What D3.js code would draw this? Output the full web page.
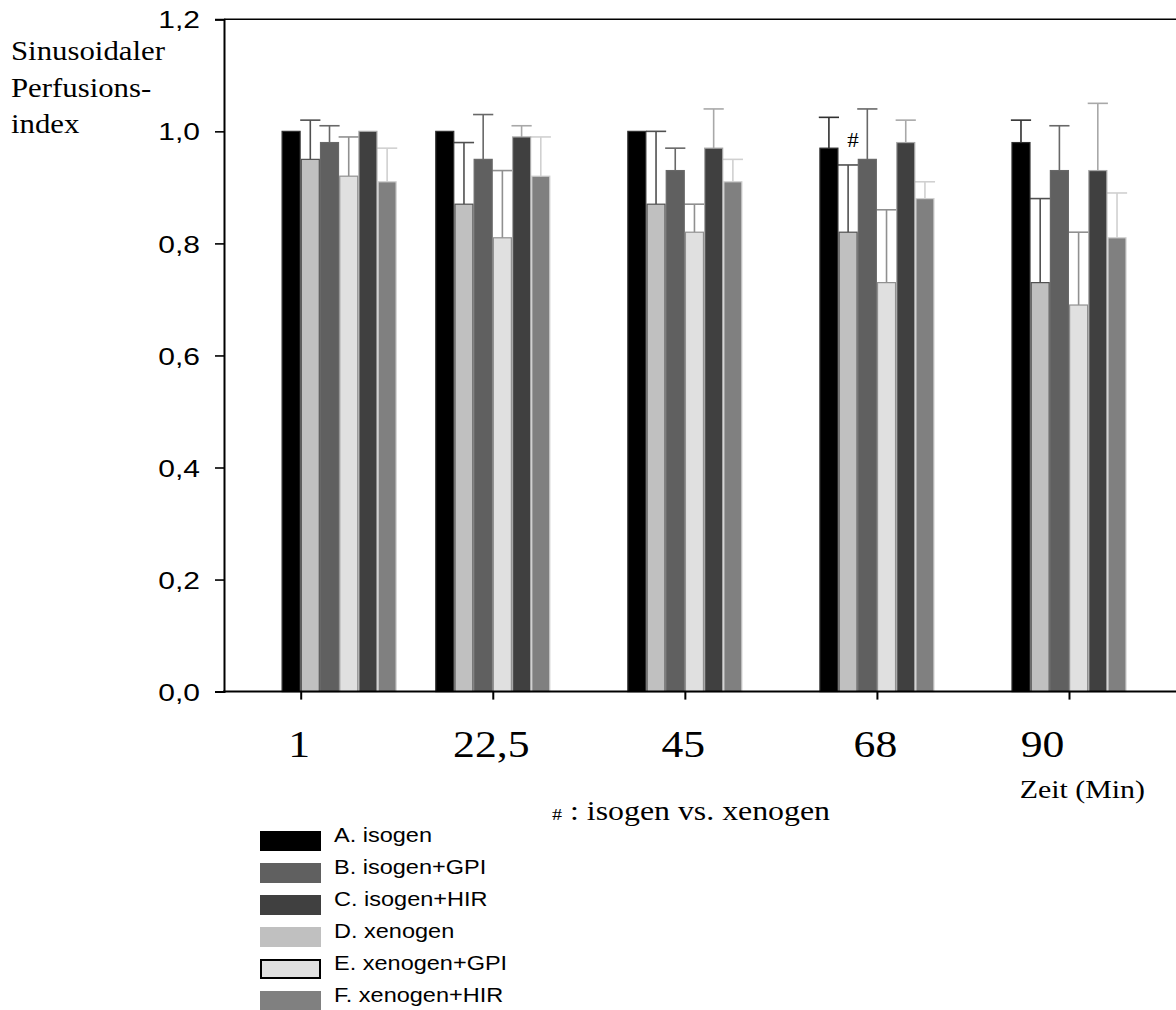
<!DOCTYPE html>
<html>
<head>
<meta charset="utf-8">
<script src="https://cdn.jsdelivr.net/npm/d3@7"></script>
<style>
  html, body { margin: 0; padding: 0; background: #fff; }
  svg { display: block; }
</style>
</head>
<body>
<svg id="chart" width="1176" height="1010"></svg>
<script>
// Time points (minutes) and their axis labels
const tickTimes  = [0, 22.5, 45, 67.5, 90];
const tickLabels = ["1", "22,5", "45", "68", "90"];
// Where each measurement group sits on the time axis
const groupTimes = [4.5, 22.5, 45, 67.5, 90];

// Series (legend order)
const seriesKeys   = ["A", "B", "C", "D", "E", "F"];
const seriesNames  = ["A. isogen", "B. isogen+GPI", "C. isogen+HIR", "D. xenogen", "E. xenogen+GPI", "F. xenogen+HIR"];
// Order of bars inside each group
const barOrder = ["A", "D", "B", "E", "C", "F"];

// Sinusoidal perfusion index: means and upper SD per time point
const valuesA = [1.00, 1.00, 1.00, 0.97, 0.98];
const errA    = [0.00, 0.00, 0.00, 0.055, 0.04];
const valuesB = [0.98, 0.95, 0.93, 0.95, 0.93];
const errB    = [0.03, 0.08, 0.04, 0.09, 0.08];
const valuesC = [1.00, 0.99, 0.97, 0.98, 0.93];
const errC    = [0.00, 0.02, 0.07, 0.04, 0.12];
const valuesD = [0.95, 0.87, 0.87, 0.82, 0.73];
const errD    = [0.07, 0.11, 0.13, 0.12, 0.15];
const valuesE = [0.92, 0.81, 0.82, 0.73, 0.69];
const errE    = [0.07, 0.12, 0.05, 0.13, 0.13];
const valuesF = [0.91, 0.92, 0.91, 0.88, 0.81];
const errF    = [0.06, 0.07, 0.04, 0.03, 0.08];

const yTicks = [0, 0.2, 0.4, 0.6, 0.8, 1.0, 1.2];

const seriesValues = { A: valuesA, B: valuesB, C: valuesC, D: valuesD, E: valuesE, F: valuesF };
const seriesErr    = { A: errA, B: errB, C: errC, D: errD, E: errE, F: errF };

const fillColor = { A: "#000000", B: "#606060", C: "#404040", D: "#c0c0c0", E: "#e0e0e0", F: "#808080" };
// Outline / whisker tone for each bar slot inside a group
const edgeColor = { A: "#303030", D: "#505050", B: "#686868", E: "#909090", C: "#a8a8a8", F: "#d0d0d0" };

const serif = "'Liberation Serif', 'Times New Roman', serif";
const sans  = "'Liberation Sans', Arial, sans-serif";
const stretch = 1.15; // typeface is set slightly wide

const svg = d3.select("#chart");

const x = d3.scaleLinear().domain([0, 90]).range([300.7, 1069]);
const y = d3.scaleLinear().domain([0, 1.2]).range([691.6, 19.3]);
const axisLeftX = 224;
const rightEdge = 1176;
const barW = (x(22.5) - x(0)) / 10;

// ---- bars ----
const bars = [];
groupTimes.forEach((t, gi) => {
  barOrder.forEach((k, bi) => {
    bars.push({ key: k, gi, t, bi, v: seriesValues[k][gi], e: seriesErr[k][gi] });
  });
});
const barX = d => x(d.t) + (d.bi - 3) * barW;

const gBars = svg.append("g");
// whiskers first (upper half only), then bars on top
gBars.selectAll("line.whisk").data(bars.filter(d => d.e > 0)).join("line")
  .attr("class", "whisk")
  .attr("x1", d => barX(d) + barW / 2).attr("x2", d => barX(d) + barW / 2)
  .attr("y1", d => y(d.v)).attr("y2", d => y(d.v + d.e))
  .attr("stroke", d => edgeColor[d.key]).attr("stroke-width", 1.6);
gBars.selectAll("line.cap").data(bars.filter(d => d.e > 0)).join("line")
  .attr("class", "cap")
  .attr("x1", d => barX(d) - 0.5).attr("x2", d => barX(d) + barW + 0.5)
  .attr("y1", d => y(d.v + d.e)).attr("y2", d => y(d.v + d.e))
  .attr("stroke", d => edgeColor[d.key]).attr("stroke-width", 1.6);
gBars.selectAll("rect").data(bars).join("rect")
  .attr("x", d => barX(d) + 0.6)
  .attr("width", barW - 1.2)
  .attr("y", d => y(d.v))
  .attr("height", d => y(0) - y(d.v))
  .attr("fill", d => fillColor[d.key])
  .attr("stroke", d => edgeColor[d.key]).attr("stroke-width", 1.2);

// significance marker over xenogen at 68 min
const markIdx = 3;
svg.append("text")
  .attr("transform", `translate(${x(groupTimes[markIdx]) - 2 * barW + barW / 2 + 5},${y(valuesD[markIdx] + errD[markIdx]) - 18}) scale(${stretch},1)`)
  .attr("text-anchor", "middle")
  .attr("font-family", serif).attr("font-size", 20)
  .text("#");

// ---- axes ----
const gy = svg.append("g").attr("transform", `translate(${axisLeftX},0)`)
  .call(d3.axisLeft(y).tickValues(yTicks).tickSize(9).tickPadding(15)
    .tickFormat(d => d3.format(".1f")(d).replace(".", ",")));
gy.select(".domain").attr("stroke-width", 2);
gy.selectAll(".tick line").attr("stroke-width", 1.6);
gy.selectAll(".tick text")
  .attr("font-family", sans).attr("font-size", 24).attr("fill", "#000")
  .attr("dy", "0.36em")
  .each(function () {
    const t = d3.select(this);
    const xx = +t.attr("x");
    t.attr("x", null).attr("transform", `translate(${xx},0) scale(1.25,1)`);
  });

// frame lines along top and bottom
svg.append("line").attr("x1", axisLeftX).attr("x2", rightEdge)
  .attr("y1", y(1.2)).attr("y2", y(1.2)).attr("stroke", "#000").attr("stroke-width", 1.6);

const gx = svg.append("g").attr("transform", `translate(0,${y(0)})`)
  .call(d3.axisBottom(x).tickValues(tickTimes).tickSize(8).tickPadding(30)
    .tickFormat((d, i) => tickLabels[i]));
gx.select(".domain").remove();
gx.selectAll(".tick line").attr("stroke-width", 2);
// last label is nudged left so it sits above the axis title
gx.selectAll(".tick text")
  .attr("font-family", serif).attr("font-size", 38).attr("fill", "#000")
  .attr("transform", (d, i) => `translate(${i === tickTimes.length - 1 ? -27 : -2},0) scale(1.15,1)`);
svg.append("line").attr("x1", axisLeftX - 1).attr("x2", rightEdge)
  .attr("y1", y(0)).attr("y2", y(0)).attr("stroke", "#000").attr("stroke-width", 2);

// ---- titles ----
const yTitle = ["Sinusoidaler", "Perfusions-", "index"];
svg.append("g").selectAll("text").data(yTitle).join("text")
  .attr("transform", (d, i) => `translate(11,${60 + i * 36.5}) scale(1.1,1)`)
  .attr("font-family", serif).attr("font-size", 28)
  .text(d => d);

svg.append("text")
  .attr("transform", `translate(1145,798) scale(${stretch},1)`)
  .attr("text-anchor", "end")
  .attr("font-family", serif).attr("font-size", 26)
  .text("Zeit (Min)");

const note = svg.append("text")
  .attr("transform", `translate(552,820) scale(1.18,1)`)
  .attr("font-family", serif).attr("font-size", 27);
note.append("tspan").attr("font-size", 17).text("#");
note.append("tspan").text(" : isogen vs. xenogen");

// ---- legend ----
const legend = svg.append("g");
const rowY = i => 831 + i * 32;
legend.selectAll("rect").data(seriesKeys).join("rect")
  .attr("x", d => d === "E" ? 261 : 260)
  .attr("y", (d, i) => rowY(i) + (d === "E" ? 1 : 0))
  .attr("width", d => d === "E" ? 59 : 61)
  .attr("height", d => d === "E" ? 18 : 20)
  .attr("fill", d => fillColor[d])
  .attr("stroke", d => d === "E" ? "#000" : "none")
  .attr("stroke-width", 2);
legend.selectAll("text").data(seriesNames).join("text")
  .attr("transform", (d, i) => `translate(334,${rowY(i) + 11}) scale(1.12,1)`)
  .attr("font-family", sans).attr("font-size", 21)
  .text(d => d);
</script>
</body>
</html>
